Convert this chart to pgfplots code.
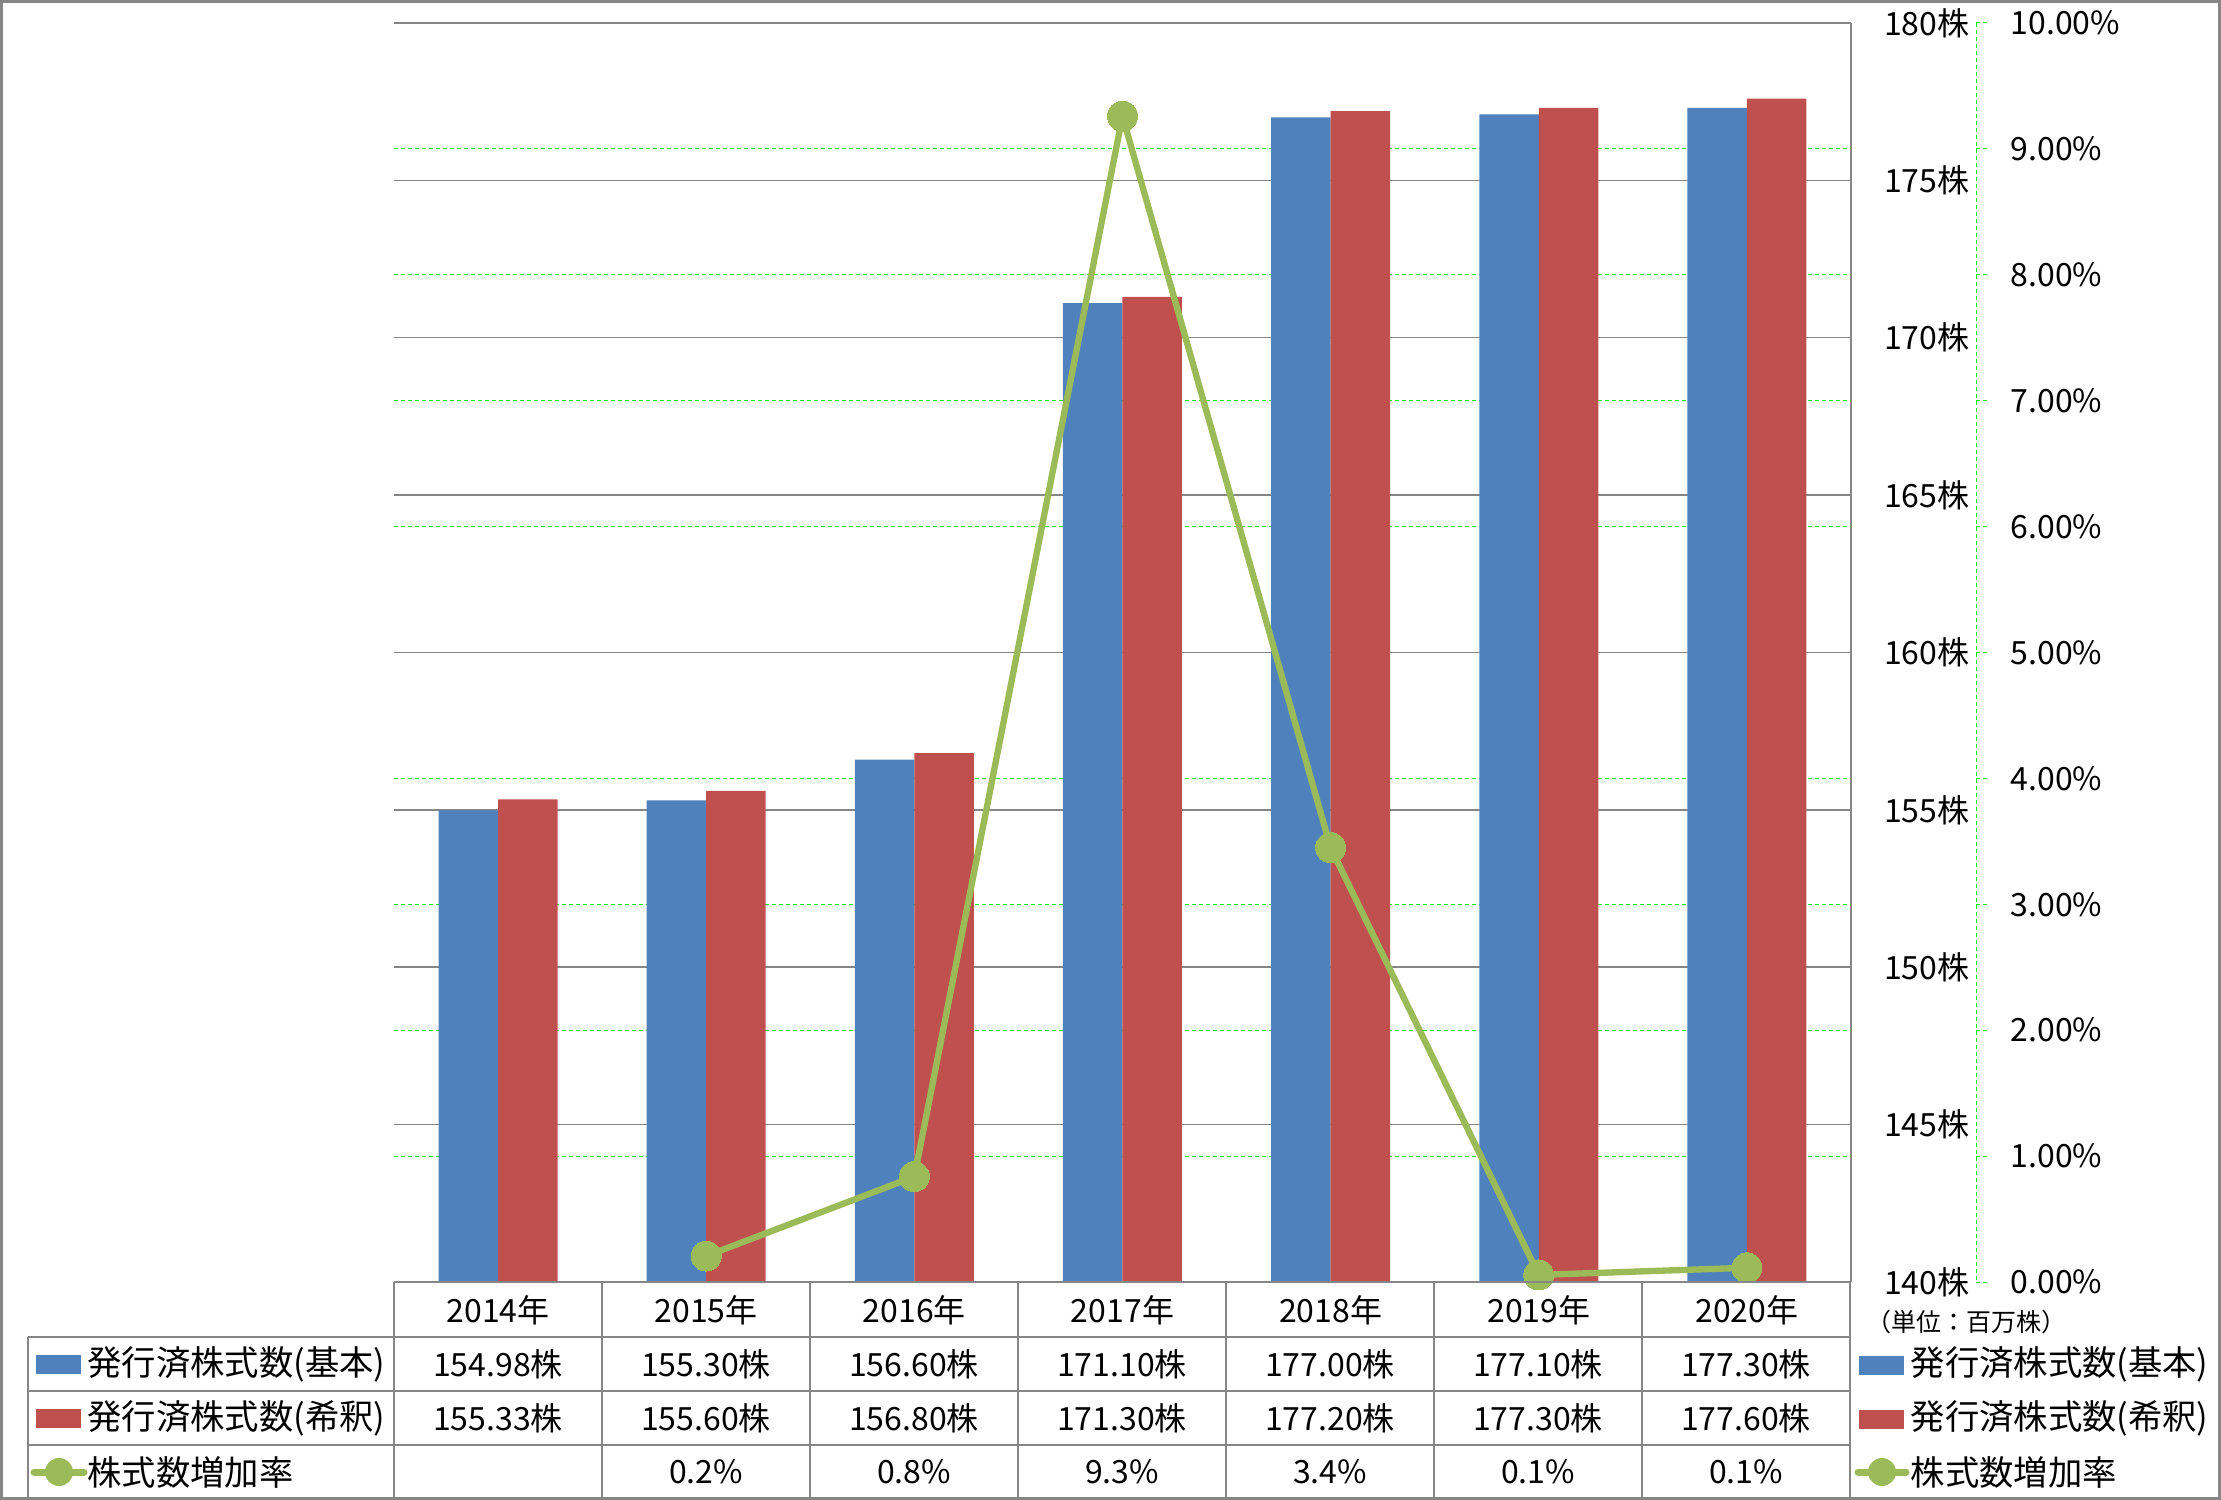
\documentclass[border=0pt]{standalone}
\usepackage{fontspec}
\setmainfont{Noto Sans CJK JP}
\usepackage{pgfplots}
\pgfplotsset{compat=1.18}
\definecolor{cblue}{HTML}{4F81BD}
\definecolor{cred}{HTML}{C0504D}
\definecolor{cgreen}{HTML}{9BBB59}
\definecolor{gridgray}{HTML}{868686}
\definecolor{dgreen}{HTML}{00EE00}
\newcommand\tf{\fontsize{9.6pt}{11pt}\selectfont}
\newcommand\lf{\fontsize{10.3pt}{12pt}\selectfont}
\newcommand\smallf{\fontsize{7.5pt}{9pt}\selectfont}
\begin{document}
\begin{tikzpicture}[font=\tf]
\begin{scope}[x=0.3pt,y=-0.3pt]
\useasboundingbox (0,0) rectangle (2221,1500);
\end{scope}
% primary axis: bars
\begin{axis}[at={(118.2pt,-384.6pt)}, anchor=south west,
  width=437.1pt, height=377.7pt, scale only axis,
  xmin=-0.5, xmax=6.5, ymin=140, ymax=180,
  ybar=0pt, bar width=17.85pt,
  axis x line*=bottom, axis y line*=right,
  axis line style={gridgray, line width=0.45pt, -},
  xtick={0,...,6},
  xticklabels={2014年,2015年,2016年,2017年,2018年,2019年,2020年},
  ytick={140,145,...,180},
  yticklabels={140株,145株,150株,155株,160株,165株,170株,175株,180株},
  major tick length=0pt,
  ymajorgrids, major grid style={gridgray, line width=0.45pt},
  extra y ticks={144,148,152,156,164,168,172,176},
  extra y tick labels={},
  extra y tick style={ymajorgrids=true, major grid style={dgreen, line width=0.3pt, dash pattern=on 1.2pt off 0.9pt}},
  xticklabel style={anchor=center, yshift=-8.4pt, font=\tf},
  yticklabel style={anchor=east, inner sep=0pt, xshift=35.7pt, font=\tf},
  /pgf/number format/assume math mode=true,
]
\addplot[fill=cblue, draw=none] coordinates {(0,154.98) (1,155.30) (2,156.60) (3,171.10) (4,177.00) (5,177.10) (6,177.30)};
\addplot[fill=cred, draw=none] coordinates {(0,155.33) (1,155.60) (2,156.80) (3,171.30) (4,177.20) (5,177.30) (6,177.60)};
\end{axis}
% secondary axis: growth rate
\begin{axis}[at={(118.2pt,-384.6pt)}, anchor=south west,
  width=437.1pt, height=377.7pt, scale only axis,
  xmin=-0.5, xmax=6.5, ymin=0, ymax=10,
  hide x axis, axis y line*=right, y axis line style={draw=none},
  ytick={0,...,10},
  yticklabels={0.00\%,1.00\%,2.00\%,3.00\%,4.00\%,5.00\%,6.00\%,7.00\%,8.00\%,9.00\%,10.00\%},
  major tick length=0pt,
  yticklabel style={anchor=west, inner sep=0pt, xshift=47.7pt, font=\tf},
  /pgf/number format/assume math mode=true,
  clip=false,
]
\addplot[cgreen, line width=1.9pt, mark=*, mark size=4.5pt, mark options={fill=cgreen, draw=cgreen, line width=0pt}] coordinates {(1,0.206) (2,0.837) (3,9.26) (4,3.45) (5,0.056) (6,0.113)};
\end{axis}
\begin{scope}[x=0.3pt,y=-0.3pt]
% outer frame
\draw[gridgray, line width=0.9pt] (1.5,1.5) rectangle (2219.5,1498.5);
% secondary axis line and ticks
\draw[dgreen, line width=0.3pt, dash pattern=on 1.2pt off 0.9pt] (1976,23) -- (1976,1282);
\foreach \k in {0,...,10} \draw[dgreen, line width=0.3pt, dash pattern=on 1.2pt off 0.9pt] (1976,{1282-125.9*\k}) -- (1988,{1282-125.9*\k});
% table grid
\draw[gridgray, line width=0.45pt] (394,1282) -- (1851,1282);
\foreach \yy in {1337,1391,1445} \draw[gridgray, line width=0.45pt] (28,\yy) -- (1851,\yy);
\draw[gridgray, line width=0.45pt] (28,1337) -- (28,1498);
\foreach \k in {0,...,7} \draw[gridgray, line width=0.45pt] ({394+208*\k},1282) -- ({394+208*\k},1498);
% table values
\foreach \v [count=\i from 0] in {154.98株,155.30株,156.60株,171.10株,177.00株,177.10株,177.30株}
  \node[anchor=center, inner sep=0pt] at ({498+208*\i},1364) {\v};
\foreach \v [count=\i from 0] in {155.33株,155.60株,156.80株,171.30株,177.20株,177.30株,177.60株}
  \node[anchor=center, inner sep=0pt] at ({498+208*\i},1418) {\v};
\foreach \v [count=\i from 1] in {0.2\%,0.8\%,9.3\%,3.4\%,0.1\%,0.1\%}
  \node[anchor=center, inner sep=0pt] at ({498+208*\i},1472) {\v};
% left legend keys
\fill[cblue] (36,1355) rectangle (81,1374);
\fill[cred] (36,1409) rectangle (81,1428);
\draw[cgreen, line width=2.1pt, line cap=round] (34,1472) -- (84,1472);
\fill[cgreen] (59,1472) circle (14);
\node[anchor=west, inner sep=0pt, font=\lf] at (87,1364) {発行済株式数(基本)};
\node[anchor=west, inner sep=0pt, font=\lf] at (87,1418) {発行済株式数(希釈)};
\node[anchor=west, inner sep=0pt, font=\lf] at (87,1472) {株式数増加率};
% right legend
\fill[cblue] (1859,1356) rectangle (1904,1375);
\fill[cred] (1859,1410) rectangle (1904,1429);
\draw[cgreen, line width=2.1pt, line cap=round] (1858,1472) -- (1906,1472);
\fill[cgreen] (1882,1472) circle (14);
\node[anchor=west, inner sep=0pt, font=\lf] at (1910,1364) {発行済株式数(基本)};
\node[anchor=west, inner sep=0pt, font=\lf] at (1910,1418) {発行済株式数(希釈)};
\node[anchor=west, inner sep=0pt, font=\lf] at (1910,1472) {株式数増加率};
% unit
\node[anchor=center, inner sep=0pt, font=\smallf] at (1966,1322) {（単位：百万株）};
\end{scope}
\end{tikzpicture}
\end{document}
